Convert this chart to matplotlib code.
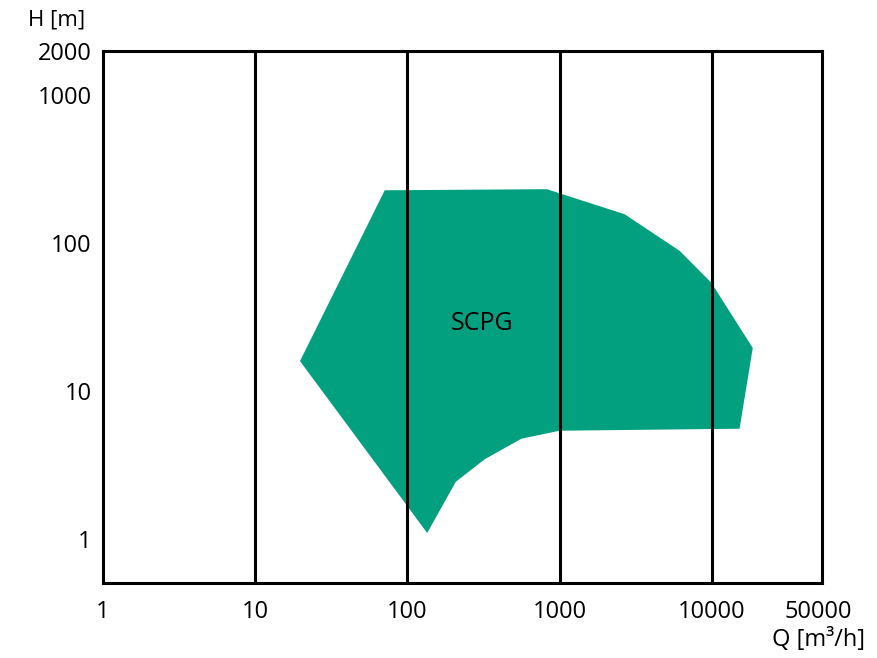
import matplotlib.pyplot as plt

# SCPG operating range (Q in m3/h, H in m)
q_range = [71, 823, 2675, 6150, 9930, 18600, 15230, 1000, 561, 322, 208, 135, 19.7]
h_range = [228, 232, 157, 88.7, 54, 19.5, 5.54, 5.37, 4.74, 3.44, 2.42, 1.09, 15.9]

x_ticks = [1, 10, 100, 1000, 10000, 50000]
x_labels = ["1", "10", "100", "1000", "10000", "50000"]
y_ticks = [1, 10, 100, 1000, 2000]
y_labels = ["1", "10", "100", "1000", "2000"]
grid_q = [10, 100, 1000, 10000]

plt.rcParams['font.family'] = ['Open Sans', 'DejaVu Sans']

fig = plt.figure(figsize=(8.78, 6.58), dpi=100)
ax = fig.add_axes([0.1173, 0.114, 0.8189, 0.8085])
ax.set_xscale("log")
ax.set_yscale("log")
ax.set_xlim(1, 53000)
ax.set_ylim(0.5, 2000)

ax.fill(q_range, h_range, color="#03A07F", lw=0, zorder=1)
for q in grid_q:
    ax.axvline(q, color="black", lw=2.2, zorder=2)

ax.text(308, 28.4, "SCPG", fontsize=18, ha="center", va="center", zorder=3)

ax.set_xticks(x_ticks)
ax.set_xticklabels(x_labels)
ax.set_yticks(y_ticks)
ax.set_yticklabels(y_labels)
ax.minorticks_off()
ax.tick_params(axis="x", length=0, pad=12, labelsize=17)
ax.tick_params(axis="y", length=0, pad=8, labelsize=17)
for s in ax.spines.values():
    s.set_linewidth(2.2)

fig.text(57 / 878, 1 - 20 / 658, "H [m]", fontsize=16, ha="center", va="center")
fig.text(819 / 878, 1 - 640 / 658, "Q [m³/h]", fontsize=17, ha="center", va="center")

fig.savefig("out.png", dpi=100)
